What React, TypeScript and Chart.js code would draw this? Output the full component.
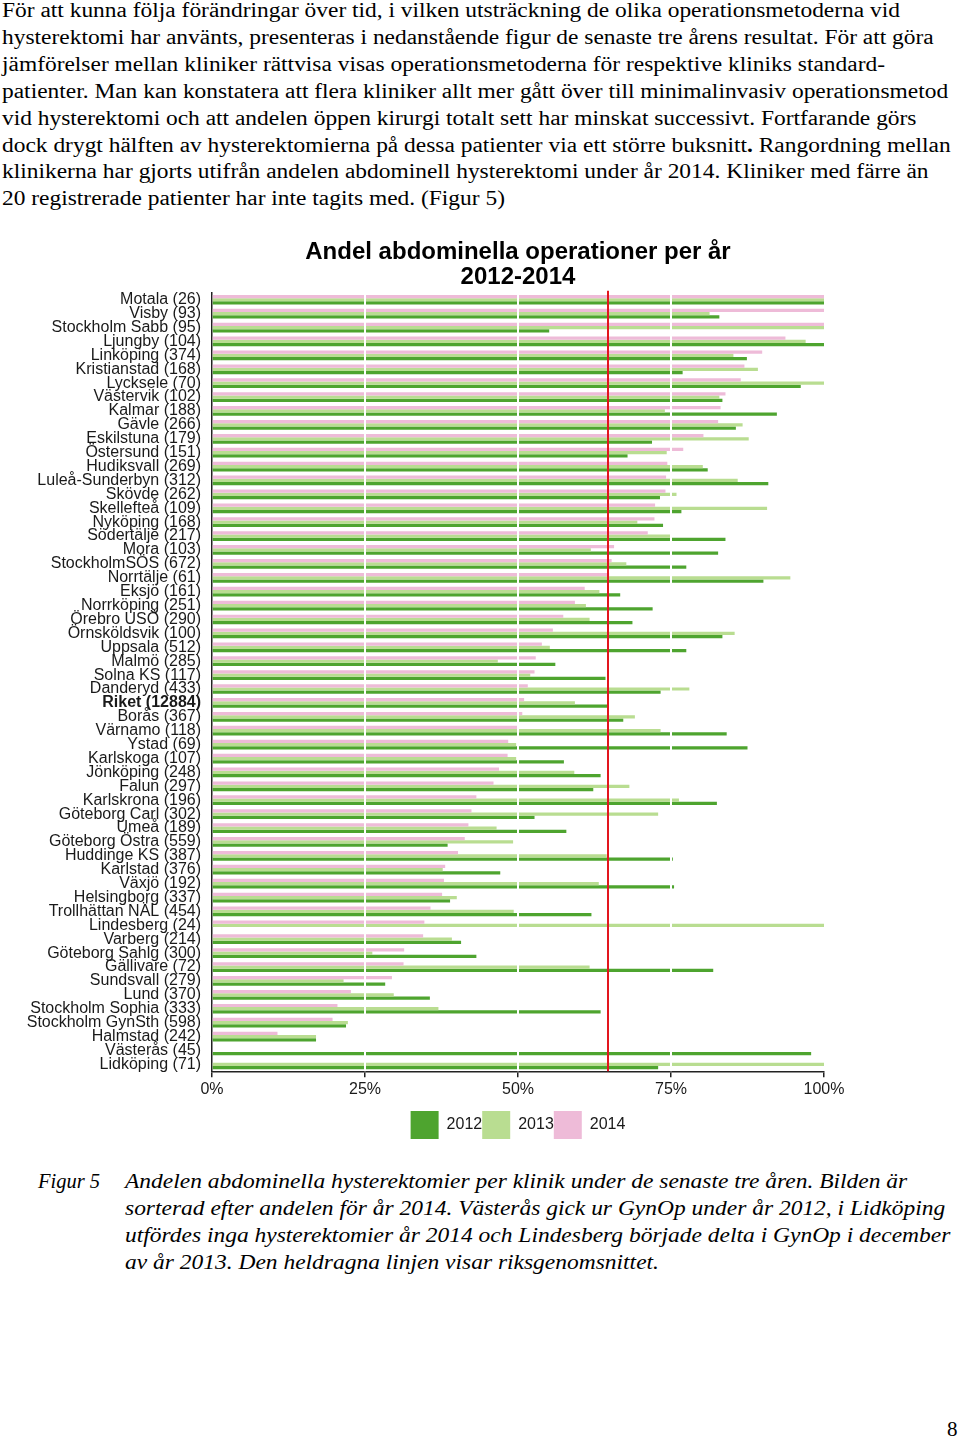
import React, { useEffect, useRef } from 'react';
import { Chart, registerables } from 'chart.js';

Chart.register(...registerables);

const CATEGORIES = [
  'Motala (26)', 'Visby (93)', 'Stockholm Sabb (95)', 'Ljungby (104)', 'Linköping (374)',
  'Kristianstad (168)', 'Lycksele (70)', 'Västervik (102)', 'Kalmar (188)', 'Gävle (266)',
  'Eskilstuna (179)', 'Östersund (151)', 'Hudiksvall (269)', 'Luleå-Sunderbyn (312)', 'Skövde (262)',
  'Skellefteå (109)', 'Nyköping (168)', 'Södertälje (217)', 'Mora (103)', 'StockholmSÖS (672)',
  'Norrtälje (61)', 'Eksjö (161)', 'Norrköping (251)', 'Örebro USÖ (290)', 'Örnsköldsvik (100)',
  'Uppsala (512)', 'Malmö (285)', 'Solna KS (117)', 'Danderyd (433)', 'Riket (12884)',
  'Borås (367)', 'Värnamo (118)', 'Ystad (69)', 'Karlskoga (107)', 'Jönköping (248)',
  'Falun (297)', 'Karlskrona (196)', 'Göteborg Carl (302)', 'Umeå (189)', 'Göteborg Östra (559)',
  'Huddinge KS (387)', 'Karlstad (376)', 'Växjö (192)', 'Helsingborg (337)', 'Trollhättan NÄL (454)',
  'Lindesberg (24)', 'Varberg (214)', 'Göteborg Sahlg (300)', 'Gällivare (72)', 'Sundsvall (279)',
  'Lund (370)', 'Stockholm Sophia (333)', 'Stockholm GynSth (598)', 'Halmstad (242)', 'Västerås (45)',
  'Lidköping (71)',
];

const SERIES_2012 = [
  100, 82.9, 55.1, 100, 87.4, 76.9, 96.2, 83.4, 92.3, 85.6,
  71.9, 67.9, 81, 90.9, 73.2, 76.7, 73.7, 83.9, 82.7, 77.5,
  90.1, 66.7, 72, 68.7, 83.4, 77.5, 56.1, 64.3, 73.3, 64.7,
  67.2, 84.1, 87.5, 57.5, 63.5, 62.3, 82.5, 52.7, 57.9, 38.5,
  75.3, 47.1, 75.5, 38.9, 62, null, 40.7, 43.2, 81.9, 28.3,
  35.6, 63.5, 21.9, 17, 97.9, 72.9,
];

const SERIES_2013 = [
  100, 81.3, 100, 97, 85.2, 89.2, 100, 82.9, 74, 86.7,
  87.7, 74.3, 80.2, 85.9, 75.9, 90.7, 69.5, 74.9, 61.9, 67.7,
  94.5, 63.3, 61.1, 61.7, 85.4, 55.2, 46.7, 52, 78, 59.3,
  69.1, 73.3, 49.7, 49.7, 59.2, 68.2, 76.3, 72.9, 46.5, 49.2,
  64.5, 37.7, 63.2, 40, 49.3, 100, 39.2, 26.2, 61.7, 21.5,
  29.7, 37, 22.2, 17, null, 100,
];

const SERIES_2014 = [
  100, 100, 100, 93.7, 89.9, 87, 86.4, 83.9, 83.1, 82.7,
  80.3, 77, 74.4, 74.2, 74.1, 72.4, 72.3, 71.2, 65.7, 65.3,
  64.9, 60.9, 59.3, 57.4, 55.7, 53.9, 52.9, 52.7, 51.6, 51,
  50.7, 49.9, 48.4, 48.3, 46.9, 46, 43.2, 42.4, 41.9, 41.3,
  40.2, 38.1, 37.9, 37.6, 35.7, 34.7, 34.5, 31.4, 31.3, 29.4,
  22.7, 20.5, 19.7, 10.7, null, null,
];

const SERIES_LABELS = ['2012', '2013', '2014'];
const X_TICKS = [0, 25, 50, 75, 100];
const WHITE_GRID = [25, 50, 75];
const NATIONAL_AVERAGE = 64.7;
const BOLD_CATEGORY = 'Riket (12884)';
const TITLE_LINES = ['Andel abdominella operationer per år', '2012-2014'];

const BODY_LINES = [
  'För att kunna följa förändringar över tid, i vilken utsträckning de olika operationsmetoderna vid',
  'hysterektomi har använts, presenteras i nedanstående figur de senaste tre årens resultat. För att göra',
  'jämförelser mellan kliniker rättvisa visas operationsmetoderna för respektive kliniks standard-',
  'patienter. Man kan konstatera att flera kliniker allt mer gått över till minimalinvasiv operationsmetod',
  'vid hysterektomi och att andelen öppen kirurgi totalt sett har minskat successivt. Fortfarande görs',
  'dock drygt hälften av hysterektomierna på dessa patienter via ett större buksnitt|.| Rangordning mellan',
  'klinikerna har gjorts utifrån andelen abdominell hysterektomi under år 2014. Kliniker med färre än',
  '20 registrerade patienter har inte tagits med. (Figur 5)',
];

const CAPTION_LABEL = 'Figur 5';
const CAPTION_LINES = [
  'Andelen abdominella hysterektomier per klinik under de senaste tre åren. Bilden är',
  'sorterad efter andelen för år 2014. Västerås gick ur GynOp under år 2012, i Lidköping',
  'utfördes inga hysterektomier år 2014 och Lindesberg började delta i GynOp i december',
  'av år 2013. Den heldragna linjen visar riksgenomsnittet.',
];
const PAGE_NUMBER = '8';

const COLORS = { c2012: '#4ea42f', c2013: '#b9dd91', c2014: '#eebbd8' };
const SANS = '"Liberation Sans", Arial, sans-serif';
const SERIF = '"Liberation Serif", "Times New Roman", serif';

const overlayPlugin = {
  id: 'overlayLines',
  afterDatasetsDraw(chart: any) {
    const { ctx, chartArea, scales } = chart;
    const x = scales.x;
    ctx.save();
    ctx.strokeStyle = '#ffffff';
    ctx.lineWidth = 2;
    for (const v of WHITE_GRID) {
      const px = Math.round(x.getPixelForValue(v));
      ctx.beginPath();
      ctx.moveTo(px, chartArea.top);
      ctx.lineTo(px, chartArea.bottom);
      ctx.stroke();
    }
    const rx = Math.round(x.getPixelForValue(NATIONAL_AVERAGE));
    ctx.strokeStyle = '#e3161e';
    ctx.lineWidth = 2;
    ctx.beginPath();
    ctx.moveTo(rx, chartArea.top - 2);
    ctx.lineTo(rx, chartArea.bottom);
    ctx.stroke();
    ctx.restore();
  },
};

function renderBodyLine(line: string) {
  const parts = line.split('|');
  if (parts.length === 1) return line;
  return (
    <>
      {parts[0]}
      <b>{parts[1]}</b>
      {parts[2]}
    </>
  );
}

export default function App() {
  const canvasRef = useRef<HTMLCanvasElement | null>(null);

  useEffect(() => {
    if (!canvasRef.current) return;
    const chart = new Chart(canvasRef.current, {
      type: 'bar',
      data: {
        labels: CATEGORIES,
        datasets: [
          { label: SERIES_LABELS[2], data: SERIES_2014 as any, backgroundColor: COLORS.c2014, borderWidth: 0 },
          { label: SERIES_LABELS[1], data: SERIES_2013 as any, backgroundColor: COLORS.c2013, borderWidth: 0 },
          { label: SERIES_LABELS[0], data: SERIES_2012 as any, backgroundColor: COLORS.c2012, borderWidth: 0 },
        ],
      },
      plugins: [overlayPlugin],
      options: {
        indexAxis: 'y',
        animation: false,
        responsive: true,
        maintainAspectRatio: false,
        datasets: { bar: { barPercentage: 1, categoryPercentage: 0.7 } },
        layout: { padding: { top: 11.4, right: 26, left: 0, bottom: 0 } },
        scales: {
          x: {
            type: 'linear',
            min: 0,
            max: 100,
            afterBuildTicks: (scale: any) => {
              scale.ticks = X_TICKS.map((v) => ({ value: v }));
            },
            afterFit: (scale: any) => {
              scale.height += 8.5;
            },
            ticks: {
              padding: 3,
              color: '#1a1a1a',
              font: { family: SANS, size: 16 },
              callback: (v: any) => v + '%',
            },
            grid: { display: true, drawOnChartArea: false, drawTicks: true, tickLength: 6, color: '#222', lineWidth: 1.5 },
            border: { display: true, color: '#222', width: 1.5 },
          },
          y: {
            type: 'category',
            z: 1,
            afterFit: (scale: any) => {
              scale.width = 212;
            },
            ticks: {
              autoSkip: false,
              padding: 3,
              color: '#1a1a1a',
              font: (ctx: any) => ({
                family: SANS,
                size: 16,
                weight: CATEGORIES[ctx.index] === BOLD_CATEGORY ? 'bold' : 'normal',
              }),
            },
            grid: { display: false },
            border: { display: true, color: '#222', width: 1.5 },
          },
        },
        plugins: {
          title: {
            display: true,
            fullSize: false,
            text: TITLE_LINES,
            color: '#000',
            font: { family: SANS, size: 24, weight: 'bold', lineHeight: 1.05 },
            padding: { top: 0, bottom: 3 },
          },
          legend: {
            display: true,
            position: 'bottom',
            fullSize: false,
            reverse: true,
            labels: {
              boxWidth: 28,
              boxHeight: 28,
              padding: 0,
              color: '#1a1a1a',
              font: { family: SANS, size: 16 },
            },
          },
          tooltip: { enabled: false },
        },
      } as any,
    });
    return () => chart.destroy();
  }, []);

  return (
    <div style={{ position: 'absolute', left: 0, top: 0, width: 960, height: 1440, background: '#fff', overflow: 'hidden' }}>
      <div
        style={{
          position: 'absolute',
          left: 2,
          top: -3,
          fontFamily: SERIF,
          fontSize: 20.5,
          lineHeight: '26.9px',
          color: '#000',
          transform: 'scaleX(1.143)',
          transformOrigin: '0 0',
        }}
      >
        {BODY_LINES.map((l, i) => (
          <div key={i} style={{ whiteSpace: 'nowrap' }}>
            {renderBodyLine(l)}
          </div>
        ))}
      </div>

      <div style={{ position: 'absolute', left: 0, top: 228, width: 850, height: 921 }}>
        <canvas ref={canvasRef} />
      </div>

      <div
        style={{
          position: 'absolute',
          left: 0,
          top: 1168,
          width: 960,
          fontFamily: SERIF,
          fontStyle: 'italic',
          fontSize: 20.5,
          lineHeight: '27px',
          color: '#000',
        }}
      >
        <div style={{ position: 'absolute', left: 38, top: 0, whiteSpace: 'nowrap' }}>{CAPTION_LABEL}</div>
        <div style={{ position: 'absolute', left: 125, top: 0, transform: 'scaleX(1.145)', transformOrigin: '0 0' }}>
          {CAPTION_LINES.map((l, i) => (
            <div key={i} style={{ whiteSpace: 'nowrap' }}>
              {l}
            </div>
          ))}
        </div>
      </div>

      <div
        style={{
          position: 'absolute',
          left: 947,
          top: 1416,
          fontFamily: SERIF,
          fontSize: 21,
          lineHeight: '27px',
          color: '#000',
        }}
      >
        {PAGE_NUMBER}
      </div>
    </div>
  );
}
